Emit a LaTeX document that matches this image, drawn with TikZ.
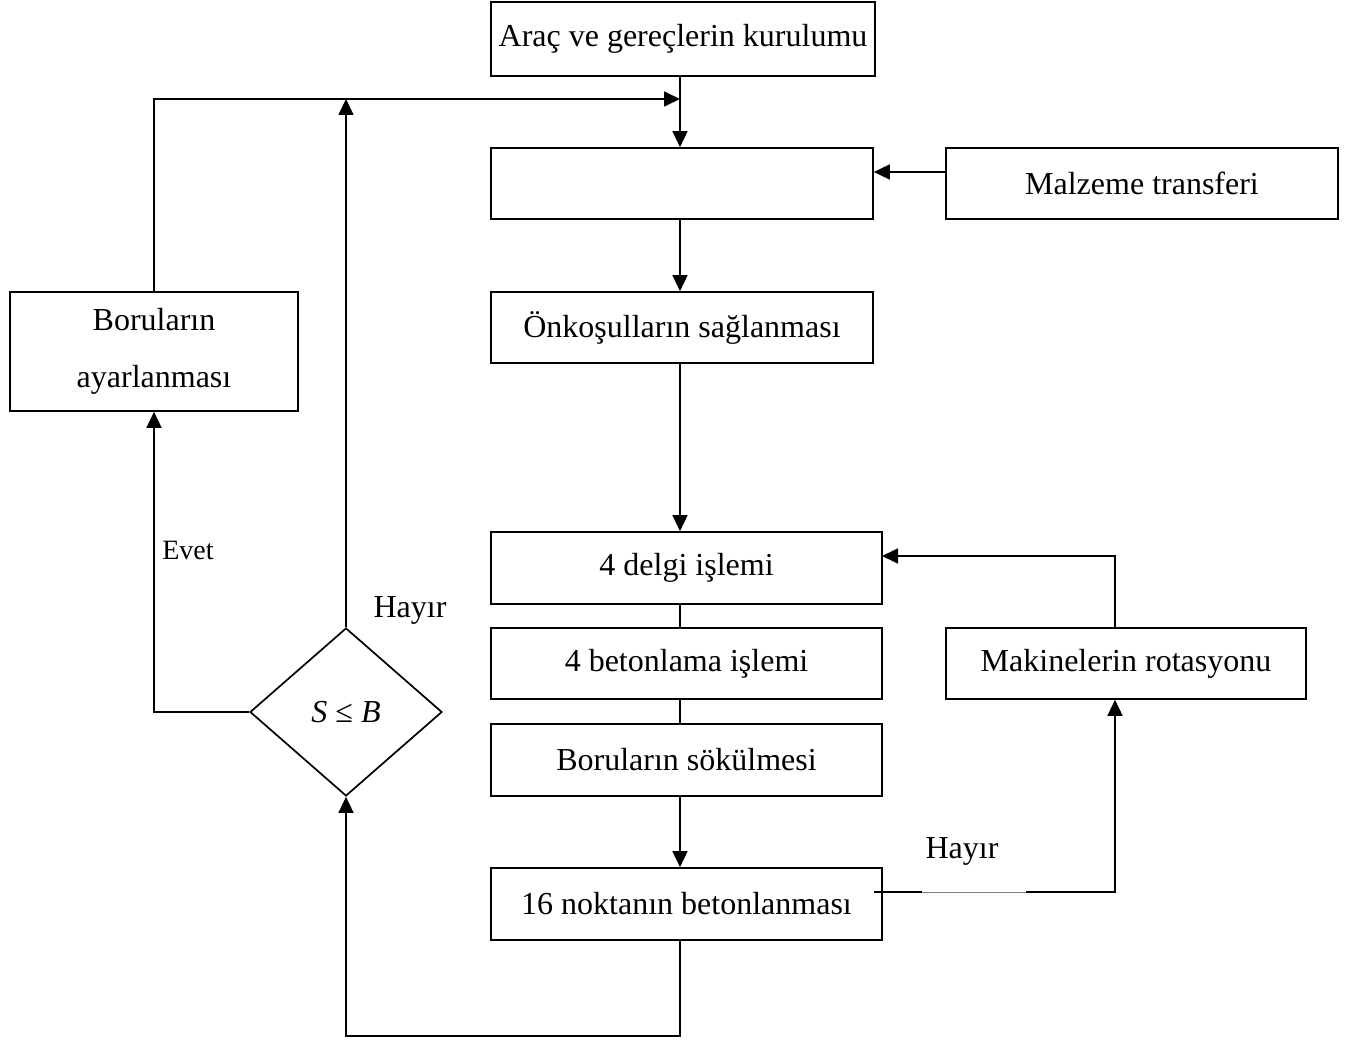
\documentclass[tikz,border=0pt]{standalone}
\usepackage{fontspec}
\setmainfont{Liberation Serif}
\usetikzlibrary{shapes.geometric,arrows.meta}
\begin{document}
\begin{tikzpicture}[x=1pt,y=-1pt,
  box/.style={draw,line width=1.7pt,inner sep=0pt,font=\fontsize{32}{38}\selectfont},
  conn/.style={line width=1.7pt},
  arr/.style={conn,-{Triangle[length=16pt,width=15pt]}},
  lbl/.style={font=\fontsize{32}{38}\selectfont}]
\useasboundingbox (0,0) rectangle (1354,1043);
\node[box,minimum width=384pt,minimum height=74pt] (top) at (683,39) {Araç ve gereçlerin kurulumu};
\node[box,minimum width=382pt,minimum height=71pt] (box2) at (682,183.5) {};
\node[box,minimum width=392pt,minimum height=71pt] (malz) at (1142,183.5) {Malzeme transferi};
\node[box,minimum width=382pt,minimum height=71pt] (onk) at (682,327.5) {Önkoşulların sağlanması};
\node[box,minimum width=391pt,minimum height=72pt] (delgi) at (686.5,568) {4 delgi işlemi};
\node[box,minimum width=391pt,minimum height=71pt] (beton) at (686.5,663.5) {4 betonlama işlemi};
\node[box,minimum width=391pt,minimum height=72pt] (sok) at (686.5,760) {Boruların sökülmesi};
\node[box,minimum width=391pt,minimum height=72pt] (nokta) at (686.5,904) {16 noktanın betonlanması};
\node[box,minimum width=360pt,minimum height=71pt] (mak) at (1126,663.5) {Makinelerin rotasyonu};
\node[box,minimum width=288pt,minimum height=119pt,align=center,font=\fontsize{32}{57}\selectfont] (boru) at (154,351.5) {Boruların\\ayarlanması};
\node[box,diamond,aspect=1,minimum width=192pt,minimum height=168pt] (dia) at (346,712) {\textit{S} ≤ \textit{B}};
\node[lbl] (hay1) at (410,610) {Hayır};
\node[lbl] (hay2) at (962,851) {Hayır};
\node[font=\fontsize{28}{34}\selectfont] (evet) at (188,550) {Evet};
\coordinate (cx) at (680,0);
\coordinate (mx) at (1115,0);
\coordinate (j) at (680,99);
\coordinate (d) at (882,556);
\coordinate (h1) at (874,892);
\coordinate (h2) at (922,892);
\coordinate (h3) at (1026,892);
\coordinate (b) at (680,1036);
\draw[arr] (cx |- top.south) -- (cx |- box2.north);
\draw[arr] (boru.north) |- (j);
\draw[arr] (dia.north) -- (dia.north |- j);
\draw[arr] (malz.west |- 0,172) -- (box2.east |- 0,172);
\draw[arr] (cx |- box2.south) -- (cx |- onk.north);
\draw[arr] (cx |- onk.south) -- (cx |- delgi.north);
\draw[conn] (cx |- delgi.south) -- (cx |- beton.north);
\draw[conn] (cx |- beton.south) -- (cx |- sok.north);
\draw[arr] (cx |- sok.south) -- (cx |- nokta.north);
\draw[conn] (h1) -- (h2);
\draw[line width=1pt,gray] (h2) -- (h3);
\draw[arr] (h3) -| (mx |- mak.south);
\draw[arr] (mx |- mak.north) |- (d);
\draw[arr] (cx |- nokta.south) -- (b) -| (dia.south);
\draw[arr] (dia.west) -| (boru.south);
\end{tikzpicture}
\end{document}
